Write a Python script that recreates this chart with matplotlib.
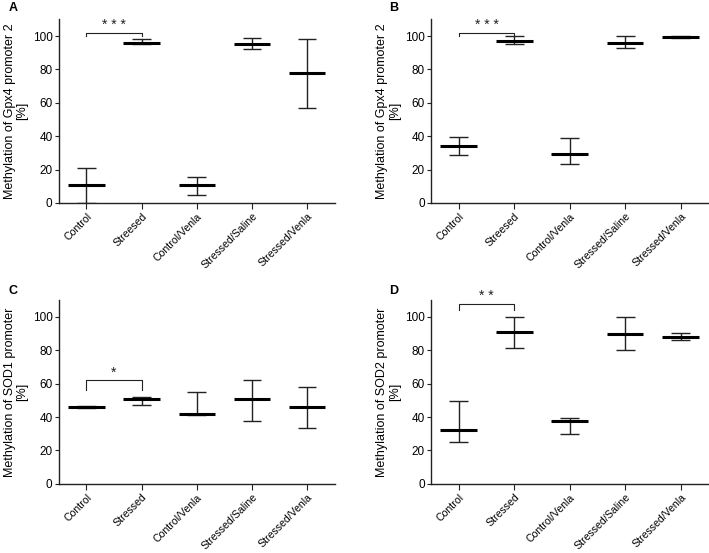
import matplotlib
matplotlib.use("Agg")
import matplotlib.pyplot as plt

plt.rcParams['font.family'] = ['Liberation Sans', 'DejaVu Sans']

groups_ab = ["Control", "Streesed", "Control/Venla", "Stressed/Saline", "Stressed/Venla"]
groups_cd = ["Control", "Stressed", "Control/Venla", "Stressed/Saline", "Stressed/Venla"]

# mean, lower, upper for each panel
gpx4_a_mean = [10.5, 96, 11, 95, 78]
gpx4_a_low = [0, 95, 5, 92, 57]
gpx4_a_high = [21, 98, 15.5, 99, 98]

gpx4_b_mean = [34, 97, 29.5, 96, 99.5]
gpx4_b_low = [28.5, 95, 23.5, 93, 99]
gpx4_b_high = [39.5, 100, 39, 100, 100]

sod1_mean = [46, 51, 42, 51, 46]
sod1_low = [45.5, 47.5, 41, 37.5, 33.5]
sod1_high = [46.5, 52, 55, 62, 58]

sod2_mean = [32.5, 91, 37.5, 90, 88]
sod2_low = [25, 81.5, 30, 80, 86]
sod2_high = [49.5, 100, 39.5, 100, 90.5]

panels = [
    ("A", groups_ab, gpx4_a_mean, gpx4_a_low, gpx4_a_high,
     "Methylation of Gpx4 promoter 2\n[%]", "* * *", 100, 102),
    ("B", groups_ab, gpx4_b_mean, gpx4_b_low, gpx4_b_high,
     "Methylation of Gpx4 promoter 2\n[%]", "* * *", 100, 102),
    ("C", groups_cd, sod1_mean, sod1_low, sod1_high,
     "Methylation of SOD1 promoter\n[%]", "*", 56, 62),
    ("D", groups_cd, sod2_mean, sod2_low, sod2_high,
     "Methylation of SOD2 promoter\n[%]", "* *", 104, 108),
]

positions = [
    [0.083, 0.633, 0.389, 0.332],
    [0.608, 0.633, 0.391, 0.332],
    [0.083, 0.125, 0.389, 0.332],
    [0.608, 0.125, 0.391, 0.332],
]
letter_pos = [(0.012, 0.975), (0.549, 0.975), (0.012, 0.463), (0.549, 0.463)]

fig = plt.figure(figsize=(7.09, 5.53), dpi=100)
line_col = '#222222'

for (letter, groups, mean, low, high, ylab, stars, b_lo, b_hi), pos, lp in zip(panels, positions, letter_pos):
    ax = fig.add_axes(pos)
    x = list(range(len(groups)))
    for i in x:
        ax.vlines(i, low[i], high[i], color=line_col, lw=1.0)
        ax.hlines([low[i], high[i]], i - 0.17, i + 0.17, color=line_col, lw=1.0)
        ax.hlines(mean[i], i - 0.33, i + 0.33, color='black', lw=2.2)
    # significance bracket
    ax.plot([0, 0, 1, 1], [b_lo, b_hi, b_hi, b_lo], color=line_col, lw=0.8)
    ax.text(0.5, b_hi + 0.3, stars, ha='center', va='bottom', fontsize=10, color=line_col)

    ax.set_xlim(-0.5, 4.5)
    ax.set_ylim(0, 110)
    ax.set_yticks([0, 20, 40, 60, 80, 100])
    ax.set_xticks(x)
    ax.set_xticklabels(groups, rotation=45, ha='right', rotation_mode='anchor', fontsize=7.6)
    ax.tick_params(axis='y', labelsize=8.5, length=3, pad=1.5, color=line_col)
    ax.tick_params(axis='x', length=4, pad=2, color=line_col)
    ax.set_ylabel(ylab, fontsize=9, labelpad=3, linespacing=1.1)
    for s in ['top', 'right']:
        ax.spines[s].set_visible(False)
    for s in ['left', 'bottom']:
        ax.spines[s].set_color(line_col)
        ax.spines[s].set_linewidth(1.0)
    fig.text(lp[0], lp[1], letter, fontsize=9, fontweight='bold', va='bottom')

fig.savefig("out.png", dpi=100)
